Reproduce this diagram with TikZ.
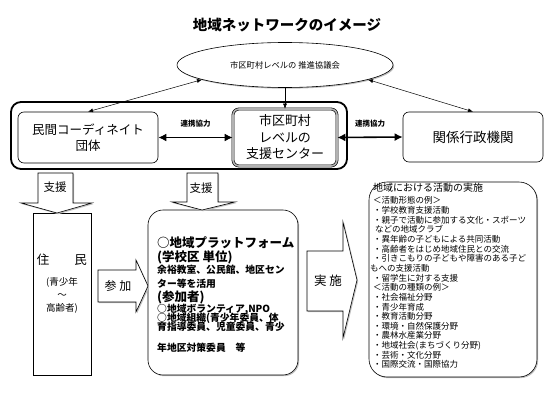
\documentclass[tikz,border=0pt]{standalone}
\usepackage{fontspec}
\setmainfont{Noto Sans CJK JP}
\usetikzlibrary{arrows.meta,shapes.geometric,shadows,positioning}

\begin{document}
\begin{tikzpicture}[x=1pt, y=-1pt,
    unitbox/.style={draw, fill=white, rounded corners=6pt, line width=0.6pt, inner sep=0pt},
    dropshade/.style={drop shadow={shadow xshift=1.2pt, shadow yshift=-1.2pt, opacity=1, fill=gray!50}},
    coop/.style={<->, >={Latex[length=8pt,width=8pt]}, line width=1.6pt},
    tie/.style={<->, >={Latex[length=5pt,width=4pt]}, line width=0.5pt},
    blockarrow/.style={draw, fill=white, line width=0.6pt, dropshade},
    cooplabel/.style={font=\bfseries\fontsize{7.5}{8}\selectfont, inner sep=0pt},
    pfbig/.style={anchor=base west, inner sep=0pt, font=\bfseries\fontsize{12.5}{14}\selectfont},
    pfsmall/.style={anchor=base west, inner sep=0pt, font=\bfseries\fontsize{9.8}{10}\selectfont}]
    \useasboundingbox (0,0) rectangle (550,407);

    % Title
    \node[font=\bfseries\fontsize{14.5}{16}\selectfont, inner sep=0pt] (title) at (287,25) {地域ネットワークのイメージ};

    % Draw the council ellipse
    \node[ellipse, draw, fill=white, line width=0.6pt, minimum width=216pt, minimum height=45pt, inner sep=0pt, dropshade, font=\fontsize{8.3}{9}\selectfont] (pc) at (285,65) {市区町村レベルの 推進協議会};

    % Draw the network frame and its boxes
    \node[draw, rounded corners=10pt, line width=1.8pt, minimum width=336pt, minimum height=67pt, inner sep=0pt] (net) at (179,135.5) {};
    \node[unitbox, minimum width=140pt, minimum height=51pt, align=center, font=\fontsize{12.5}{16}\selectfont] (lb) at (88,137.5) {民間コーディネイト\\団体};
    \node[unitbox, double=gray!60, double distance=1.6pt, minimum width=104pt, minimum height=57pt, align=center, font=\fontsize{13}{16.5}\selectfont] (cb) at (285,137.5) {市区町村\\レベルの\\支援センター};
    \node[unitbox, minimum width=140pt, minimum height=50pt, font=\fontsize{13.5}{15}\selectfont] (rb) at (473,137) {関係行政機関};

    % Draw edges from the council
    \draw[tie] (pc.190) -- (lb.north);
    \draw[tie] (pc.350) -- (rb.north);
    \draw[-{Latex[length=5pt,width=4pt]}, line width=0.5pt] (pc.south) -- (cb.north);

    % Draw cooperation edges
    \draw[coop] (lb.east) -- node[cooplabel, midway, above=9pt] (c1) {連携協力} (cb.west);
    \draw[coop] (cb.east) -- node[cooplabel, midway, above=9pt] (c2) {連携協力} (rb.west);

    % Draw residents box
    \node[draw, fill=white, line width=0.6pt, minimum width=58pt, minimum height=162pt, inner sep=0pt, dropshade] (jm) at (62,294) {};
    \node[font=\fontsize{12.5}{14}\selectfont, inner sep=0pt] (jm1) at (62,260) {住　　民};
    \node[font=\fontsize{9.5}{13}\selectfont, align=center, inner sep=0pt] (jm2) at (62,295) {(青少年\\～\\高齢者)};

    % Draw platform box
    \node[draw, fill=white, rounded corners=15pt, line width=0.6pt, minimum width=150pt, minimum height=165pt, dropshade] (pf) at (223,292.5) {};
    \node[pfbig] (pf1) at (157,247.8) {○地域プラットフォーム};
    \node[pfbig] (pf2) at (157,261.8) {(学校区 単位)};
    \node[pfsmall] (pf3) at (157,273.8) {余裕教室、公民館、地区セン};
    \node[pfsmall] (pf4) at (157,287.8) {ター等を活用};
    \node[pfbig] (pf5) at (157,301.8) {(参加者)};
    \node[pfsmall] (pf6) at (157,312.8) {○地域ボランティア,NPO};
    \node[pfsmall] (pf7) at (157,321.8) {○地域組織(青少年委員、体};
    \node[pfsmall] (pf8) at (157,330.8) {育指導委員、児童委員、青少};
    \node[pfsmall] (pf9) at (157,351.8) {年地区対策委員　等};

    % Draw activities box
    \node[draw, fill=white, rounded corners=18pt, line width=0.6pt, minimum width=168pt, minimum height=195pt, dropshade] (act) at (453,279.5) {};
    \node[anchor=west, inner sep=0pt, font=\fontsize{10}{11}\selectfont] (act1) at (373,188) {地域における活動の実施};
    \node[anchor=north west, align=left, inner sep=0pt, font=\fontsize{8.5}{9.65}\selectfont] (act2) at (373,196.5) {＜活動形態の例＞\\
    ・学校教育支援活動\\
    ・親子で活動に参加する文化・スポーツ\\
    \hspace*{2pt}などの地域クラブ\\
    ・異年齢の子どもによる共同活動\\
    ・高齢者をはじめ地域住民との交流\\
    ・引きこもりの子どもや障害のある子ど\\
    \hspace*{-3pt}もへの支援活動\\
    ・留学生に対する支援\\
    ＜活動の種類の例＞\\
    ・社会福祉分野\\
    ・青少年育成\\
    ・教育活動分野\\
    ・環境・自然保護分野\\
    ・農林水産業分野\\
    ・地域社会(まちづくり分野)\\
    ・芸術・文化分野\\
    ・国際交流・国際協力};

    % Draw block arrows for support
    \draw[blockarrow] (38,173) -- (73,173) -- (73,203) -- (92,203) -- (57,213) -- (21,203) -- (38,203) -- cycle;
    \node[font=\fontsize{11.5}{12}\selectfont, inner sep=0pt] (sp1) at (55,187) {支援};
    \draw[blockarrow] (187,173) -- (218,173) -- (218,202) -- (235,202) -- (202,210) -- (172,202) -- (187,202) -- cycle;
    \node[font=\fontsize{11.5}{12}\selectfont, inner sep=0pt] (sp2) at (201,188) {支援};

    % Draw block arrows for joining and running
    \draw[blockarrow] (98,270) -- (136,270) -- (136,260) -- (148,286) -- (136,312) -- (136,302) -- (98,302) -- cycle;
    \node[font=\fontsize{12}{13}\selectfont, inner sep=0pt] (jn) at (118,286) {参 加};
    \draw[blockarrow] (307,251) -- (343,251) -- (343,222) -- (357,280) -- (343,338) -- (343,311) -- (307,311) -- cycle;
    \node[font=\fontsize{12.5}{13}\selectfont, inner sep=0pt] (run) at (328,281) {実 施};

\end{tikzpicture}
\end{document}
